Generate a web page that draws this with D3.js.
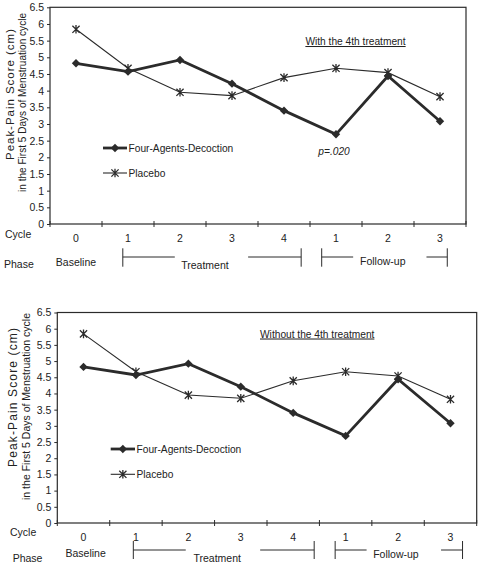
<!DOCTYPE html>
<html><head><meta charset="utf-8">
<script src="https://cdn.jsdelivr.net/npm/d3@7"></script>
<style>
html,body{margin:0;padding:0;background:#fff;}
svg text{font-family:"Liberation Sans",Arial,sans-serif;fill:#222;}
</style></head>
<body>
<svg id="c" width="478" height="567"></svg>
<script>
// ---- data ----
const cycleLabels = ["0","1","2","3","4","1","2","3"];
const fadValues = [4.82, 4.57, 4.92, 4.21, 3.40, 2.69, 4.44, 3.08];
const placeboValues = [5.84, 4.67, 3.95, 3.85, 4.39, 4.67, 4.54, 3.82];
const yTicks = [0,0.5,1,1.5,2,2.5,3,3.5,4,4.5,5,5.5,6,6.5];
const seriesNames = ["Four-Agents-Decoction","Placebo"];
const phaseNames = ["Baseline","Treatment","Follow-up"];
const panelTitles = ["With the 4th treatment","Without the 4th treatment"];
const pValueText = "p=.020";
const yLabelLines = ["Peak-Pain Score (cm)","in the First 5 Days of Menstruation cycle"];

// ---- layout ----
const panels = [
  {left:50, right:466, top:7.3, bottom:224,
   title:{x:355.5, y:45, anchor:"middle"}, pval:{x:334, y:155, show:true},
   legend:{x1:103, x2:127, y1:148, y2:173},
   ylab:[{x:13.5, cy:94.5, len:131, fs:11.5},{x:25.5, cy:102.5, len:179, fs:10}],
   cycleRow:{labelX:5, labelY:238, numY:242},
   phaseRow:{labelX:4, y:268, baseY:265.5, treatY:269, follY:264.5, brTop:248.3, brBot:266.7, brMid:257,
     base:0, tL:0.9, tS1:1.9, tC:2.48, tS2:3.31, tR:4.33, fL:4.725, fS1:5.33, fC:5.9, fS2:6.74, fR:7.14}},
  {left:57.3, right:476.7, top:312.5, bottom:523,
   title:{x:260, y:337.5, anchor:"start"}, pval:{show:false},
   legend:{x1:110.7, x2:135, y1:449, y2:474.3},
   ylab:[{x:16.5, cy:397.5, len:139, fs:12},{x:30, cy:406.5, len:187, fs:10.5}],
   cycleRow:{labelX:10, labelY:536, numY:540.7},
   phaseRow:{labelX:12.7, y:561.5, baseY:557, treatY:561.5, follY:557.5, brTop:541, brBot:559, brMid:550,
     base:0.04, tL:0.95, tS1:1.95, tC:2.55, tS2:3.37, tR:4.4, fL:4.8, fS1:5.4, fC:5.96, fS2:6.82, fR:7.23}}
];

const ink = "#2b2b2b";
const svg = d3.select("#c");

const diamond = "M0,-4.2L4.2,0L0,4.2L-4.2,0Z";
const asterisk = "M-3.6,-3.6L3.6,3.6M-3.6,3.6L3.6,-3.6M0,-4.3L0,4.3";

panels.forEach((P, pi) => {
  const g = svg.append("g");
  const idx = d3.range(cycleLabels.length);
  const x = d3.scaleBand().domain(idx).range([P.left, P.right]).padding(0);
  const cx = i => x(i) + x.bandwidth()/2;
  const xu = d3.scaleLinear().domain([-0.5, cycleLabels.length-0.5]).range([P.left, P.right]);
  const y = d3.scaleLinear().domain([0, 6.5]).range([P.bottom, P.top]);

  // frame
  g.append("rect").attr("x",P.left).attr("y",P.top).attr("width",P.right-P.left).attr("height",P.bottom-P.top)
    .attr("fill","none").attr("stroke",ink).attr("stroke-width",1.2);

  // y axis
  const ya = g.append("g").attr("transform",`translate(${P.left},0)`)
    .call(d3.axisLeft(y).tickValues(yTicks).tickSize(3).tickPadding(3).tickFormat(d => String(d)));
  ya.select(".domain").remove();
  ya.selectAll("line").attr("stroke",ink);
  ya.selectAll("text").attr("font-size","10.5px").attr("fill","#222").attr("font-family","Liberation Sans, Arial, sans-serif");

  // x ticks at band boundaries
  g.selectAll(".xt").data(d3.range(cycleLabels.length+1)).join("line")
    .attr("x1",i => xu(i-0.5)).attr("x2",i => xu(i-0.5))
    .attr("y1",P.bottom-3).attr("y2",P.bottom+3).attr("stroke",ink).attr("stroke-width",1);

  // cycle row
  g.append("text").attr("x",P.cycleRow.labelX).attr("y",P.cycleRow.labelY).attr("font-size","10.5px").text("Cycle");
  g.selectAll(".cl").data(cycleLabels).join("text")
    .attr("x",(d,i)=>cx(i)).attr("y",P.cycleRow.numY).attr("text-anchor","middle").attr("font-size","10.5px").text(d=>d);

  // phase row
  const R = P.phaseRow;
  g.append("text").attr("x",R.labelX).attr("y",R.y).attr("font-size","10.5px").text("Phase");
  g.append("text").attr("x",xu(R.base)).attr("y",R.baseY).attr("text-anchor","middle").attr("font-size","10.5px").text(phaseNames[0]);
  g.append("text").attr("x",xu(R.tC)).attr("y",R.treatY).attr("text-anchor","middle").attr("font-size","10.5px").text(phaseNames[1]);
  g.append("text").attr("x",xu(R.fC)).attr("y",R.follY).attr("text-anchor","middle").attr("font-size","10.5px").text(phaseNames[2]);
  const brackets = [[R.tL,R.tS1,R.tS2,R.tR],[R.fL,R.fS1,R.fS2,R.fR]];
  brackets.forEach(b => {
    const [a,s1,s2,e] = b.map(v => xu(v));
    const path = `M${a},${R.brTop}L${a},${R.brBot}M${a},${R.brMid}L${s1},${R.brMid}M${s2},${R.brMid}L${e},${R.brMid}M${e},${R.brTop}L${e},${R.brBot}`;
    g.append("path").attr("d",path).attr("stroke",ink).attr("stroke-width",1).attr("fill","none");
  });

  // y label
  P.ylab.forEach((yl, li) => {
    g.append("text").attr("transform",`translate(${yl.x},${yl.cy}) rotate(-90)`)
      .attr("text-anchor","middle").attr("font-size",yl.fs+"px")
      .attr("textLength", yl.len).attr("lengthAdjust","spacing")
      .text(yLabelLines[li]);
  });

  // lines
  const line = d3.line().x((d,i)=>cx(i)).y(d=>y(d));
  g.append("path").datum(placeboValues).attr("d",line).attr("fill","none").attr("stroke",ink).attr("stroke-width",1.1);
  g.append("path").datum(fadValues).attr("d",line).attr("fill","none").attr("stroke",ink).attr("stroke-width",2.8);
  g.selectAll(".pm").data(placeboValues).join("path")
    .attr("transform",(d,i)=>`translate(${cx(i)},${y(d)})`).attr("d",asterisk)
    .attr("stroke",ink).attr("stroke-width",1.3).attr("fill","none");
  g.selectAll(".fm").data(fadValues).join("path")
    .attr("transform",(d,i)=>`translate(${cx(i)},${y(d)})`).attr("d",diamond).attr("fill",ink);

  // legend
  const L = P.legend;
  const lm = (L.x1+L.x2)/2;
  g.append("line").attr("x1",L.x1).attr("x2",L.x2).attr("y1",L.y1).attr("y2",L.y1).attr("stroke",ink).attr("stroke-width",2.8);
  g.append("path").attr("transform",`translate(${lm},${L.y1})`).attr("d",diamond).attr("fill",ink);
  g.append("text").attr("x",L.x2+1.5).attr("y",L.y1+3.6).attr("font-size","10.2px").text(seriesNames[0]);
  g.append("line").attr("x1",L.x1).attr("x2",L.x2).attr("y1",L.y2).attr("y2",L.y2).attr("stroke",ink).attr("stroke-width",1.1);
  g.append("path").attr("transform",`translate(${lm},${L.y2})`).attr("d",asterisk).attr("stroke",ink).attr("stroke-width",1.3).attr("fill","none");
  g.append("text").attr("x",L.x2+1.5).attr("y",L.y2+3.6).attr("font-size","10.2px").text(seriesNames[1]);

  // title
  g.append("text").attr("x",P.title.x).attr("y",P.title.y)
    .attr("text-anchor", P.title.anchor).attr("font-size","10.2px")
    .attr("text-decoration","underline").text(panelTitles[pi]);

  if (P.pval.show) {
    g.append("text").attr("x",P.pval.x).attr("y",P.pval.y).attr("text-anchor","middle")
      .attr("font-size","10.2px").attr("font-style","italic").text(pValueText);
  }
});
</script>
</body></html>
